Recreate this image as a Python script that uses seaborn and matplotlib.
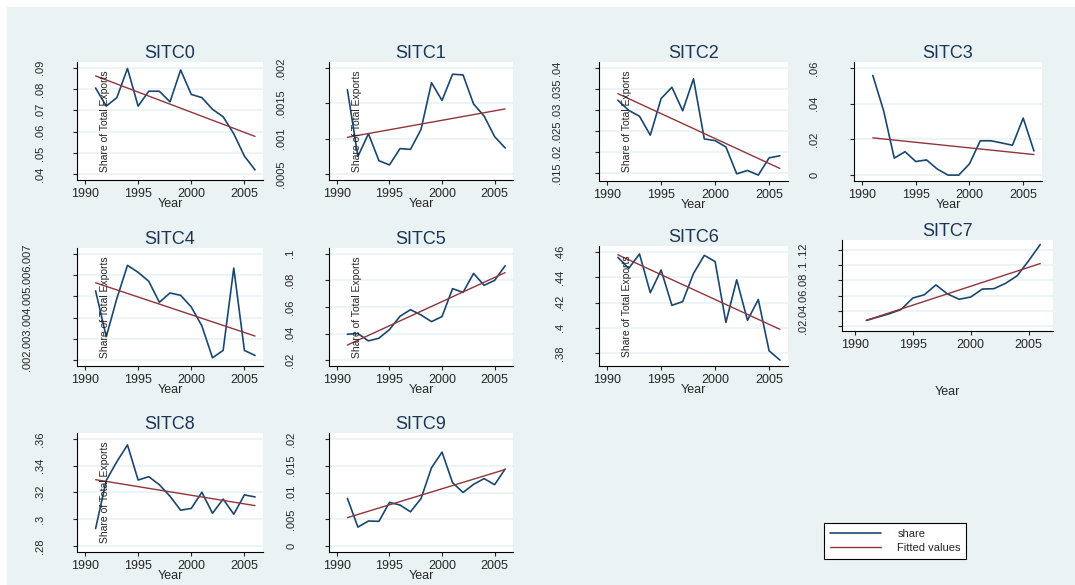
import numpy as np
import pandas as pd
import seaborn as sns
import matplotlib.pyplot as plt
from matplotlib.lines import Line2D
from matplotlib.patches import Rectangle

years = list(range(1991, 2007))

sitc0 = [.0805, .072, .076, .0897, .072, .079, .079, .074, .089, .0775, .076, .0705, .067, .059, .0485, .042]
sitc1 = [.00169, .00075, .00107, .00069, .00063, .00086, .00085, .00113, .00179, .00154, .00191, .0019, .00149, .00132, .00103, .00087]
sitc2 = [.0323, .0299, .0285, .024, .0327, .0354, .0298, .0374, .0231, .0227, .0212, .0148, .0156, .0145, .0186, .0191]
sitc3 = [.0558, .0362, .0095, .0131, .0076, .0085, .0034, .0, .0, .0063, .0192, .0192, .018, .0167, .0319, .0135]
sitc4 = [.00526, .0031, .0049, .00646, .00613, .00571, .00472, .00516, .00505, .0045, .00361, .00211, .00246, .00633, .00246, .00222]
sitc5 = [.0395, .040, .0345, .0365, .043, .053, .058, .054, .049, .0528, .0738, .071, .0853, .0763, .080, .091]
sitc6 = [.4557, .447, .4584, .4278, .4457, .4178, .4208, .443, .4573, .4524, .4043, .438, .406, .4224, .3819, .3746]
sitc7 = [.0279, .0323, .0367, .0422, .057, .0614, .0742, .0624, .0555, .0584, .0688, .0693, .0762, .086, .1057, .1269]
sitc8 = [.2931, .329, .343, .3555, .3293, .3318, .3258, .3172, .3068, .3081, .3202, .3045, .3151, .3038, .3182, .3167]
sitc9 = [.0089, .00354, .00468, .00462, .00816, .00766, .0064, .00886, .01462, .01753, .01184, .0100, .01152, .01259, .01146, .01437]

names = ['SITC0', 'SITC1', 'SITC2', 'SITC3', 'SITC4', 'SITC5', 'SITC6', 'SITC7', 'SITC8', 'SITC9']
series = [sitc0, sitc1, sitc2, sitc3, sitc4, sitc5, sitc6, sitc7, sitc8, sitc9]

yticks = [
    [.04, .05, .06, .07, .08, .09],
    [.0005, .001, .0015, .002],
    [.015, .02, .025, .03, .035, .04],
    [0, .02, .04, .06],
    [.002, .003, .004, .005, .006, .007],
    [.02, .04, .06, .08, .1],
    [.38, .4, .42, .44, .46],
    [.02, .04, .06, .08, .1, .12],
    [.28, .3, .32, .34, .36],
    [0, .005, .01, .015, .02],
]
ylabels = [
    ['.04', '.05', '.06', '.07', '.08', '.09'],
    ['.0005', '.001', '.0015', '.002'],
    ['.015', '.02', '.025', '.03', '.035', '.04'],
    ['0', '.02', '.04', '.06'],
    ['.002', '.003', '.004', '.005', '.006', '.007'],
    ['.02', '.04', '.06', '.08', '.1'],
    ['.38', '.4', '.42', '.44', '.46'],
    ['.02', '.04', '.06', '.08', '.1', '.12'],
    ['.28', '.3', '.32', '.34', '.36'],
    ['0', '.005', '.01', '.015', '.02'],
]
show_ytitle = [True, True, True, False, True, True, True, False, True, False]

NAVY = '#1A476F'
MAROON = '#90353B'
BG = '#EAF2F3'
W, H = 1075, 585

# pixel boxes (left, top, right, bottom) of each plot region
boxes = [
    (77, 62, 263, 180), (329, 62, 513, 180), (599, 62, 788, 181), (854, 62, 1042, 181),
    (77, 248, 263, 366), (329, 248, 513, 366), (599, 246, 788, 366), (842, 240, 1053, 331),
    (77, 433, 263, 552), (329, 433, 513, 552),
]
label_dist = [36, 47, 41, 39, 49, 38, 38, 38, 36, 37]

sns.set_style('ticks')
plt.rcParams['font.family'] = ['Liberation Sans', 'DejaVu Sans']

fig = plt.figure(figsize=(W / 100, H / 100), dpi=100)
fig.add_artist(Rectangle((7 / W, 0), 1, 1 - 7 / H, transform=fig.transFigure,
                         facecolor=BG, edgecolor='none', zorder=-10))

for i, name in enumerate(names):
    l, t, r, b = boxes[i]
    ax = fig.add_axes([l / W, 1 - b / H, (r - l) / W, (b - t) / H])
    df = pd.DataFrame({'Year': years, 'share': series[i]})
    sns.lineplot(data=df, x='Year', y='share', ax=ax, color=NAVY, lw=1.2)
    sns.regplot(data=df, x='Year', y='share', ax=ax, scatter=False, ci=None,
                color=MAROON, line_kws={'lw': 1})

    tk = yticks[i]
    lo = min(tk[0], min(series[i]))
    hi = max(tk[-1], max(series[i]))
    span = hi - lo
    ax.set_ylim(lo - 0.055 * span, hi + 0.055 * span)
    ax.set_yticks(tk)
    ax.set_yticklabels(ylabels[i], rotation=90, va='center')
    if name == 'SITC7':
        ax.set_xlim(1988.9, 2007.1)
    else:
        ax.set_xlim(1989.25, 2006.75)
    ax.set_xticks([1990, 1995, 2000, 2005])

    ax.set_facecolor('white')
    ax.grid(axis='y', color=BG, lw=1.2)
    ax.set_axisbelow(True)
    for s in ['top', 'right']:
        ax.spines[s].set_visible(False)
    for s in ['left', 'bottom']:
        ax.spines[s].set_linewidth(0.8)
        ax.spines[s].set_color('black')
    ax.tick_params(axis='both', direction='out', length=3, width=0.8)
    ax.tick_params(axis='x', pad=3, labelsize=9)
    ax.tick_params(axis='y', labelsize=8, pad=(label_dist[i] - 3 - 5.5) * 0.72)

    ax.set_ylabel('')
    ax.set_xlabel('Year', fontsize=9, labelpad=25 if name == 'SITC7' else -1.5)
    ax.set_title(name, fontsize=13, color='#1C3557', pad=3)
    if show_ytitle[i]:
        ax.text(0.15, 0.5, 'Share of Total Exports', rotation=90, transform=ax.transAxes,
                ha='center', va='center', fontsize=7.5)

handles = [Line2D([], [], color=NAVY, lw=1.2), Line2D([], [], color=MAROON, lw=1)]
leg = fig.legend(handles, ['share', 'Fitted values'], loc='upper left',
                 bbox_to_anchor=(824 / W, 1 - 523 / H), borderaxespad=0,
                 frameon=True, fancybox=False, framealpha=1, edgecolor='black',
                 fontsize=8, handlelength=4.6, handletextpad=1.5, borderpad=0.5,
                 labelspacing=0.4)
leg.get_frame().set_linewidth(0.8)

fig.savefig('out.png', dpi=100)
